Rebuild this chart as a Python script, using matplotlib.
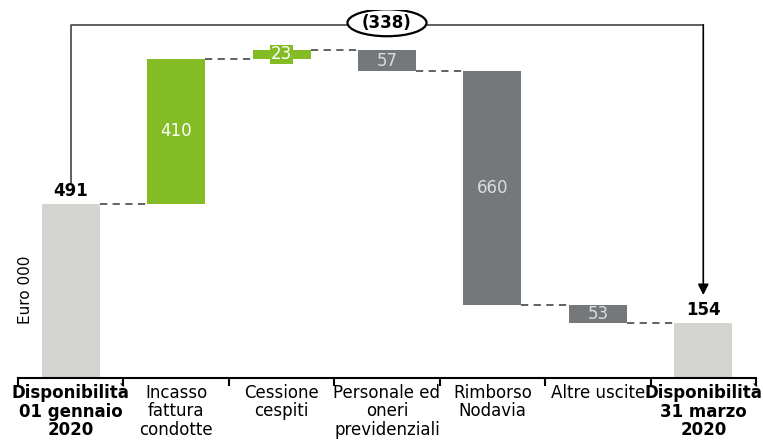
import matplotlib.pyplot as plt
from matplotlib.patches import Ellipse
import numpy as np

# dati (Euro 000)
categorie = ["Disponibilità\n01 gennaio\n2020", "Incasso\nfattura\ncondotte",
             "Cessione\ncespiti", "Personale ed\noneri\nprevidenziali",
             "Rimborso\nNodavia", "Altre uscite", "Disponibilità\n31 marzo\n2020"]
iniziale = 491
variazioni = [410, 23, -57, -660, -53]
finale = 154
variazione_totale = -338

VERDE = "#84BC26"
GRIGIO = "#74787A"
GRIGIO_CHIARO = "#D4D5D0"

fig = plt.figure(figsize=(7.63, 4.43), dpi=100)
ax = fig.add_axes([18 / 763, 65 / 443, 738 / 763, 368 / 443])

w = 0.55
x = np.arange(len(categorie))

# barre iniziale / finale
ax.bar(x[0], iniziale, width=w, color=GRIGIO_CHIARO)
ax.bar(x[-1], finale, width=w, color=GRIGIO_CHIARO)
ax.text(x[0], iniziale + 12, str(iniziale), ha="center", va="bottom",
        fontsize=12, fontweight="bold")
ax.text(x[-1], finale + 12, str(finale), ha="center", va="bottom",
        fontsize=12, fontweight="bold")

# barre intermedie
livelli = [iniziale]
for i, v in enumerate(variazioni):
    base = livelli[-1]
    col = VERDE if v > 0 else GRIGIO
    bottom = base if v > 0 else base + v
    ax.bar(x[i + 1], abs(v), bottom=bottom, width=w, color=col)
    txtcol = "white" if v > 0 else "#DCDCDC"
    kw = {}
    if abs(v) < 40:
        kw["bbox"] = dict(boxstyle="square,pad=0.05", fc=col, ec="none")
    ax.text(x[i + 1], bottom + abs(v) / 2, str(abs(v)), ha="center", va="center",
            fontsize=12, color=txtcol, **kw)
    livelli.append(base + v)

# linee tratteggiate di collegamento
for i, lv in enumerate(livelli):
    ax.plot([x[i] + w / 2, x[i + 1] - w / 2], [lv, lv], ls=(0, (4, 3)),
            color="#555555", lw=1.3)

# freccia della variazione totale
y_top = 996
ax.plot([x[0], x[0], x[-1]], [iniziale + 60, y_top, y_top], color="#444444", lw=1.2)
ax.annotate("", xy=(x[-1], finale + 80), xytext=(x[-1], y_top),
            arrowprops=dict(arrowstyle="-|>", color="black", lw=1.2,
                            mutation_scale=16, shrinkA=0, shrinkB=0))
ax.add_patch(Ellipse((x[3], y_top + 6), 0.75, 76, fc="white", ec="black",
                     lw=1.6, zorder=3))
ax.text(x[3], y_top + 6, "(%d)" % abs(variazione_totale), ha="center", va="center",
        fontsize=12, fontweight="bold", zorder=4)

ax.set_xlim(-0.5, len(categorie) - 0.5)
ax.set_ylim(0, 1038)

for s in ["top", "right", "left"]:
    ax.spines[s].set_visible(False)
ax.spines["bottom"].set_linewidth(1.5)
ax.set_yticks([])

ax.set_xticks(np.arange(-0.5, len(categorie)))
ax.set_xticklabels([])
ax.tick_params(axis="x", which="major", length=6, width=1.5, direction="out")
ax.set_xticks(x, minor=True)
ax.set_xticklabels(categorie, minor=True, fontsize=12, linespacing=1.05)
ax.tick_params(axis="x", which="minor", length=0, pad=4)
for i, lab in enumerate(ax.get_xticklabels(minor=True)):
    if i in (0, len(categorie) - 1):
        lab.set_fontweight("bold")

fig.text(25 / 763, 1 - 290 / 443, "Euro 000", rotation=90, ha="center", va="center",
         fontsize=11)

fig.savefig("out.png", dpi=100)
